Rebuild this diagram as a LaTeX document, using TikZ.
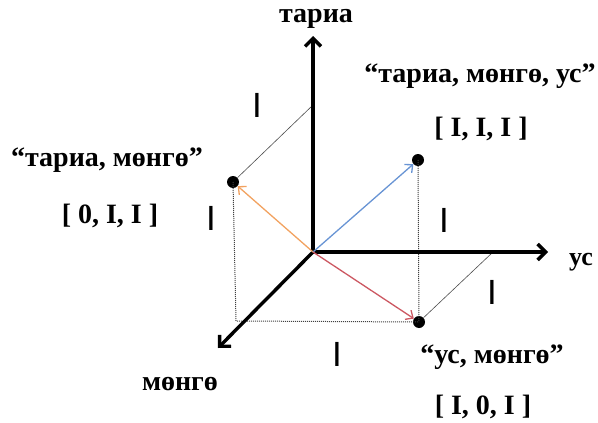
\documentclass[tikz,border=0pt]{standalone}
\usepackage{fontspec}
\setmainfont{Liberation Serif}
\newfontfamily\barfont{Liberation Sans}
\usetikzlibrary{arrows.meta}

\definecolor{vecorange}{RGB}{242,162,96}
\definecolor{vecblue}{RGB}{104,148,212}
\definecolor{vecred}{RGB}{204,88,98}

\begin{document}
\begin{tikzpicture}[
			x=1pt, y=-1pt,
			axis/.style  = {-{Straight Barb[length=8pt,width=16pt,line width=3.4pt]}, line width=3.4pt},
			vec/.style   = {-{Straight Barb[length=6pt,width=11pt]}, line width=1.3pt},
			dot/.style   = {circle, fill=black, minimum size=12pt, inner sep=0pt},
			guide/.style = {densely dotted, line width=1pt, black!75},
			proj/.style  = {line width=0.6pt, black!70},
			lbl/.style   = {font=\fontsize{28}{32}\selectfont\bfseries, inner sep=0pt},
			unit/.style  = {font=\barfont\fontsize{35}{38}\selectfont, inner sep=0pt}
			]
			\useasboundingbox (0,0) rectangle (598,423);

			% origin and axis ends
			\coordinate (O) at (313,252);
			\coordinate (tariaTip) at (313,36);
			\coordinate (usTip) at (548,252);
			\coordinate (mongoTip) at (218,348);
			\coordinate (tariaMark) at (313,105);
			\coordinate (usMark) at (493,252);
			\coordinate (corner) at (236,321);

			% points
			\node[dot] (pTM)  at (233,182) {};
			\node[dot] (pTMU) at (418,160) {};
			\node[dot] (pUM)  at (419,322) {};

			% dashed guides
			\draw[guide] (pTM.center) -- (corner) -- (pUM.center);
			\draw[guide] (pTMU.center) -- (pUM.center);
			\draw[proj] (pTM) -- (tariaMark);
			\draw[proj] (pUM) -- (usMark);

			% axes
			\draw[axis] (O) -- (tariaTip);
			\draw[axis] (O) -- (usTip);
			\draw[axis] (O) -- (mongoTip);

			% vectors
			\draw[vec, vecorange] (O) -- (pTM);
			\draw[vec, vecblue] (O) -- (pTMU);
			\draw[vec, vecred] (O) -- (pUM);

			% axis labels
			\node[lbl] (lTaria) at (316,19) {тариа};
			\node[lbl, font=\fontsize{26}{30}\selectfont\bfseries] (lUs) at (581,262) {ус};
			\node[lbl] (lMongo) at (180,384) {мөнгө};

			% point labels
			\node[lbl] (nTMU) at (480,76) {“тариа, мөнгө, ус”};
			\node[lbl] (cTMU) at (481,129) {[ I, I, I ]};
			\node[lbl] (nTM) at (107,160) {“тариа, мөнгө”};
			\node[lbl] (cTM) at (110,216) {[ 0, I, I ]};
			\node[lbl] (nUM) at (492,357) {“ус, мөнгө”};
			\node[lbl] (cUM) at (483,407) {[ I, 0, I ]};

			% unit marks
			\foreach \p/\n in {{(257,105)}/u1, {(211,218)}/u2, {(444,220)}/u3, {(492,292)}/u4, {(337,354)}/u5}
			\node[unit] (\n) at \p {I};
		\end{tikzpicture}
\end{document}
